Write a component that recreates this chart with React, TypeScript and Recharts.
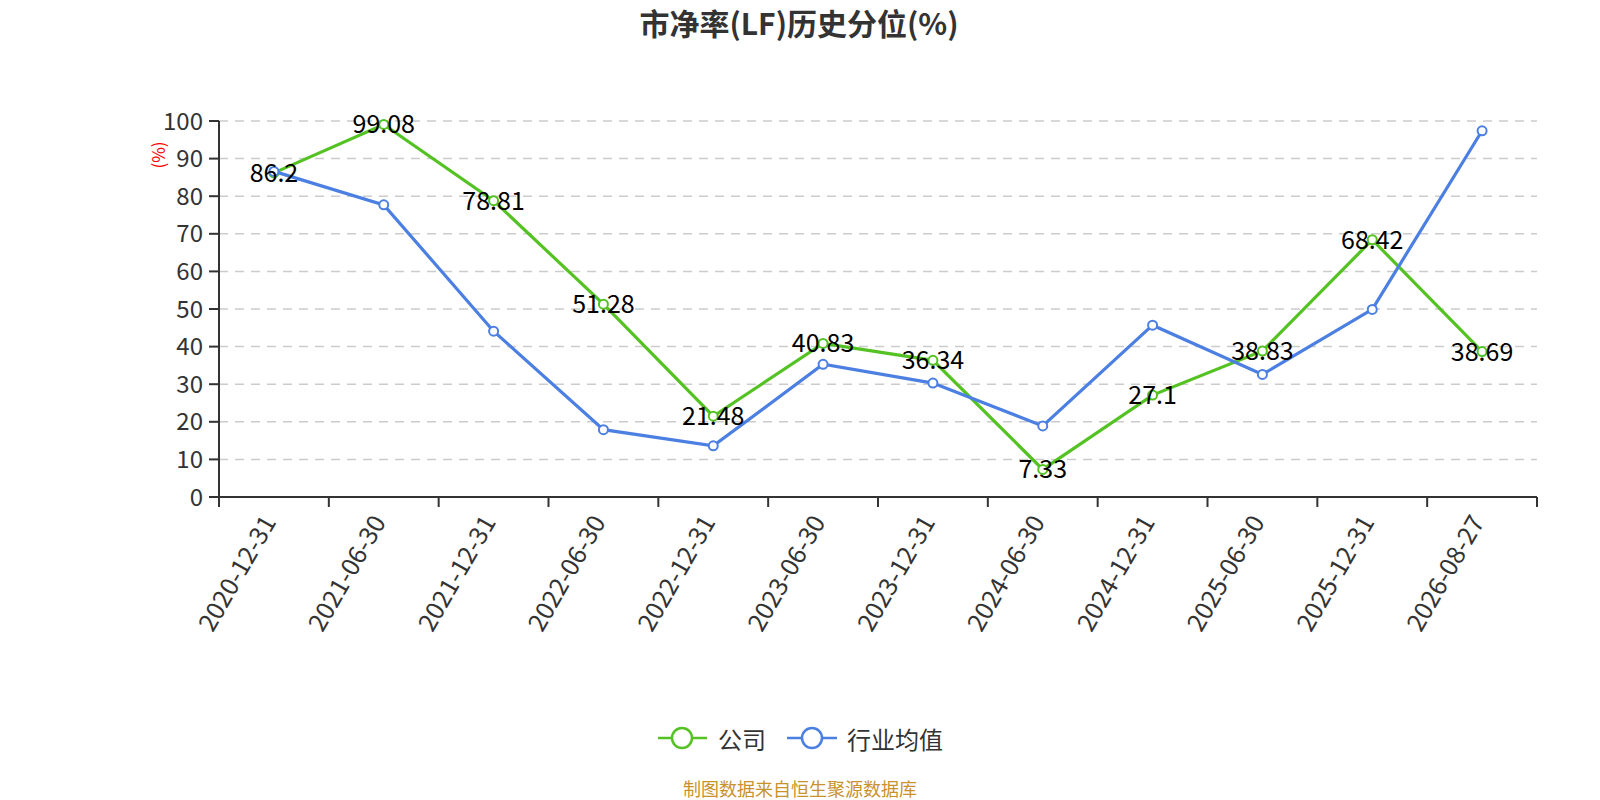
import React from 'react';
import { LineChart, Line, XAxis, YAxis, CartesianGrid, LabelList } from 'recharts';

const categories = [
  '2020-12-31', '2021-06-30', '2021-12-31', '2022-06-30', '2022-12-31', '2023-06-30',
  '2023-12-31', '2024-06-30', '2024-12-31', '2025-06-30', '2025-12-31', '2026-08-27',
];
const companyValues = [86.2, 99.08, 78.81, 51.28, 21.48, 40.83, 36.34, 7.33, 27.1, 38.83, 68.42, 38.69];
const industryValues = [86.6, 77.7, 44.1, 17.9, 13.6, 35.3, 30.3, 18.9, 45.7, 32.6, 49.9, 97.4];
const yTicks = [0, 10, 20, 30, 40, 50, 60, 70, 80, 90, 100];

const seriesNames = ['公司', '行业均值'];
const GREEN = '#55c223';
const BLUE = '#4b7fe2';
const FONT = '"Noto Sans CJK SC", "Noto Sans", sans-serif';

// each category sits in the middle of its slot on a 0..N axis (boundary ticks at integers)
const data = categories.map((c, i) => ({ date: c, pos: i + 0.5, company: companyValues[i], industry: industryValues[i] }));
const xTicks: number[] = [];
for (let i = 0; i <= categories.length; i++) {
  xTicks.push(i);
  if (i < categories.length) xTicks.push(i + 0.5);
}

const XTick = (props: any) => {
  const { x, y, payload } = props;
  const v = payload.value as number;
  if (Number.isInteger(v)) {
    return <line x1={x} y1={y} x2={x} y2={y + 10} stroke="#333" strokeWidth={2} />;
  }
  const label = categories[Math.floor(v)];
  const ax = x + 3;
  const ay = y + 25;
  return (
    <text x={ax} y={ay} transform={`rotate(-60 ${ax} ${ay})`} textAnchor="end" fontSize={25} fill="#333" fontFamily={FONT}>
      {label}
    </text>
  );
};

const DataLabel = (props: any) => {
  const { x, y, value } = props;
  return (
    <text x={x} y={y - 2} textAnchor="middle" dominantBaseline="central" fontSize={25} fill="#000" fontFamily={FONT}>
      {value}
    </text>
  );
};

const YLabel = (props: any) => {
  const { viewBox } = props;
  const lx = viewBox.x - 2;
  const ly = viewBox.y + 34;
  return (
    <text x={lx} y={ly} transform={`rotate(-90 ${lx} ${ly})`} textAnchor="middle" dominantBaseline="central" fontSize={17} fill="#ff0000" fontFamily={FONT}>
      (%)
    </text>
  );
};

export default function App() {
  return (
    <div style={{ position: 'absolute', left: 0, top: 0, width: 1600, height: 800, background: '#fff', fontFamily: FONT }}>
      <LineChart width={1600} height={800} data={data} margin={{ top: 121, right: 63, bottom: 153, left: 159 }}>
        <CartesianGrid horizontal vertical={false} stroke="#cccccc" strokeWidth={1.5} strokeDasharray="9 7" />
        <XAxis
          dataKey="pos"
          type="number"
          domain={[0, categories.length]}
          ticks={xTicks}
          interval={0}
          allowDataOverflow
          height={150}
          tickSize={0}
          tickMargin={0}
          tickLine={false}
          tick={XTick}
          axisLine={{ stroke: '#333', strokeWidth: 2 }}
        />
        <YAxis
          domain={[0, 100]}
          ticks={yTicks}
          interval={0}
          width={60}
          tickSize={10}
          tickMargin={6}
          tick={{ fontSize: 24, fill: '#333', fontFamily: FONT }}
          tickLine={{ stroke: '#333', strokeWidth: 2 }}
          axisLine={{ stroke: '#333', strokeWidth: 2 }}
          label={<YLabel />}
        />
        <Line
          type="linear"
          dataKey="company"
          name={seriesNames[0]}
          stroke={GREEN}
          strokeWidth={3.2}
          dot={{ r: 4.5, fill: '#fff', stroke: GREEN, strokeWidth: 2 }}
          activeDot={false}
          isAnimationActive={false}
        >
          <LabelList dataKey="company" content={<DataLabel />} />
        </Line>
        <Line
          type="linear"
          dataKey="industry"
          name={seriesNames[1]}
          stroke={BLUE}
          strokeWidth={3.2}
          dot={{ r: 4.5, fill: '#fff', stroke: BLUE, strokeWidth: 2 }}
          activeDot={false}
          isAnimationActive={false}
        />
      </LineChart>
      <svg width={1600} height={800} style={{ position: 'absolute', left: 0, top: 0, pointerEvents: 'none' }}>
        <text x={799} y={22} textAnchor="middle" dominantBaseline="central" fontSize={30} fontWeight="bold" fill="#333" fontFamily={FONT}>
          市净率(LF)历史分位(%)
        </text>
        <g>
          <line x1={658} y1={738} x2={707} y2={738} stroke={GREEN} strokeWidth={2.5} />
          <circle cx={682} cy={738} r={10} fill="#fff" stroke={GREEN} strokeWidth={2.5} />
          <text x={718} y={738} dominantBaseline="central" fontSize={24} fill="#333" fontFamily={FONT}>{seriesNames[0]}</text>
          <line x1={787} y1={738} x2={837} y2={738} stroke={BLUE} strokeWidth={2.5} />
          <circle cx={812} cy={738} r={10} fill="#fff" stroke={BLUE} strokeWidth={2.5} />
          <text x={847} y={738} dominantBaseline="central" fontSize={24} fill="#333" fontFamily={FONT}>{seriesNames[1]}</text>
        </g>
        <text x={800} y={796} textAnchor="middle" fontSize={18} fill="#c8922d" fontFamily={FONT}>
          制图数据来自恒生聚源数据库
        </text>
      </svg>
    </div>
  );
}
